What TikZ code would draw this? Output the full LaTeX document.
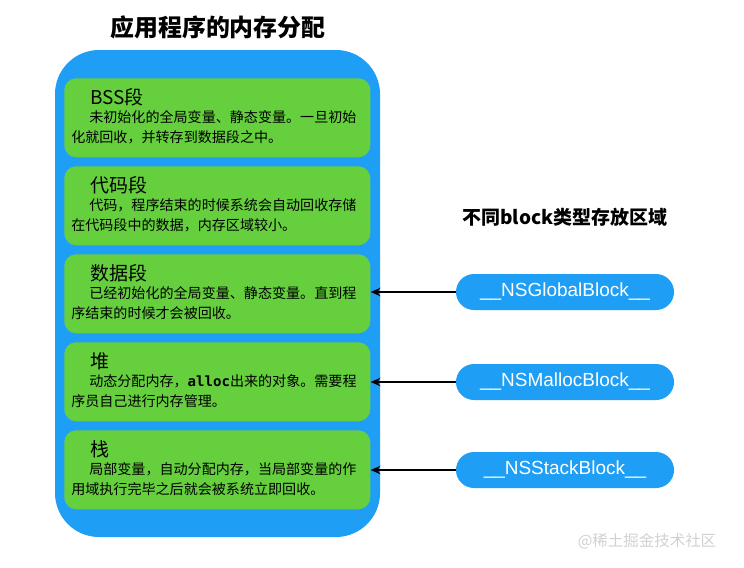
\documentclass[tikz,border=0pt]{standalone}
\usepackage{fontspec}
\setmainfont{Liberation Sans}
\newfontfamily\cjk{Noto Sans CJK SC}
\newfontfamily\codefont{DejaVu Sans Mono}
\usetikzlibrary{arrows.meta}
\definecolor{memblue}{RGB}{30,158,245}
\definecolor{memgreen}{RGB}{101,207,62}
\tikzset{
  membox/.style={fill=memblue, rounded corners=1.1cm},
  segbox/.style={fill=memgreen, rounded corners=0.3cm, minimum width=7.65cm,
    minimum height=1.975cm, anchor=north west, inner sep=0pt},
  seghead/.style={anchor=west, inner sep=0pt, font=\cjk\fontsize{13.5}{15}\selectfont},
  segtext/.style={anchor=west, inner sep=0pt, font=\cjk\fontsize{10}{12}\selectfont},
  blockpill/.style={fill=memblue, text=white, rounded corners=0.45cm, minimum width=5.45cm,
    minimum height=0.9cm, font=\fontsize{13.5}{15}\selectfont},
  arr/.style={-{Stealth[length=7pt,width=6pt]}, line width=1pt}
}
\begin{document}
\begin{tikzpicture}[x=0.025cm,y=-0.025cm]
        \useasboundingbox (0,0) rectangle (744,567);
        % left side: memory layout
        \node[font=\cjk\bfseries\fontsize{17}{20}\selectfont] (memtitle) at (218,27) {应用程序的内存分配};
        \fill[membox] (55,50) rectangle (380,537);
        \foreach \y/\name/\head/\lineA/\lineB in {
            78/bss/{BSS段}/{未初始化的全局变量、静态变量。一旦初始}/{化就回收，并转存到数据段之中。},
            166/code/{代码段}/{代码，程序结束的时候系统会自动回收存储}/{在代码段中的数据，内存区域较小。},
            254/data/{数据段}/{已经初始化的全局变量、静态变量。直到程}/{序结束的时候才会被回收。},
            342/heap/{堆}/{动态分配内存，{\codefont\bfseries alloc}出来的对象。需要程}/{序员自己进行内存管理。},
            430/stack/{栈}/{局部变量，自动分配内存，当局部变量的作}/{用域执行完毕之后就会被系统立即回收。}} {
            \node[segbox] (\name) at (64,\y) {};
            \node[seghead] (\name-h) at (90,\y+19) {\head};
            \node[segtext] (\name-a) at (89,\y+39) {\lineA};
            \node[segtext] (\name-b) at (71,\y+59) {\lineB};
          }
        % right side: block types
        \node[font=\cjk\bfseries\fontsize{13.5}{16}\selectfont] (blocktitle) at (565,217) {不同block类型存放区域};
        \node[blockpill] (global) at (565,292) {\_\_NSGlobalBlock\_\_};
        \node[blockpill] (malloc) at (565,382) {\_\_NSMallocBlock\_\_};
        \node[blockpill] (stackblk) at (565,470) {\_\_NSStackBlock\_\_};
        \draw[arr] (global.west) -- (global.west -| data.east);
        \draw[arr] (malloc.west) -- (malloc.west -| heap.east);
        \draw[arr] (stackblk.west) -- (stackblk.west -| stack.east);
        \node[text=black!18, font=\cjk\fontsize{11}{13}\selectfont] (mark) at (647,541) {@稀土掘金技术社区};
      \end{tikzpicture}
\end{document}
